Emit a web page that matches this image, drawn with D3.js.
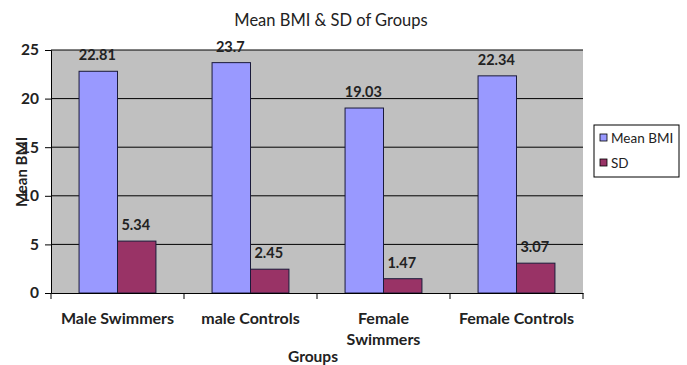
<!DOCTYPE html>
<html>
<head>
<meta charset="utf-8">
<script src="https://cdn.jsdelivr.net/npm/d3@7"></script>
<style>
  html, body { margin: 0; padding: 0; background: #fff; }
  svg { display: block; font-family: Lato, "Open Sans", "Liberation Sans", sans-serif; }
</style>
</head>
<body>
<svg id="chart" width="687" height="365"></svg>
<script>
// Group categories and the two series plotted for each
const categories = ["Male Swimmers", "male Controls", "Female Swimmers", "Female Controls"];
const categoryLines = [["Male Swimmers"], ["male Controls"], ["Female", "Swimmers"], ["Female Controls"]];
const meanBMI = [22.81, 23.7, 19.03, 22.34];
const sdValues = [5.34, 2.45, 1.47, 3.07];
const meanLabels = ["22.81", "23.7", "19.03", "22.34"];
const sdLabels = ["5.34", "2.45", "1.47", "3.07"];
const seriesNames = ["Mean BMI", "SD"];
const yTicks = [0, 5, 10, 15, 20, 25];

const colors = { "Mean BMI": "#9999FF", "SD": "#993366" };

const svg = d3.select("#chart");
const plot = { left: 51, top: 50, right: 583, bottom: 293 };

const x = d3.scaleBand().domain(categories).range([plot.left, plot.right]).paddingInner(0).paddingOuter(0);
const inner = d3.scaleBand().domain(seriesNames).range([0, x.bandwidth()]).paddingInner(0).paddingOuter(0.73);
const y = d3.scaleLinear().domain([0, 25]).range([plot.bottom, plot.top]);

// plot area background
svg.append("rect")
  .attr("x", plot.left).attr("y", plot.top)
  .attr("width", plot.right - plot.left).attr("height", plot.bottom - plot.top)
  .attr("fill", "#C0C0C0");

// horizontal gridlines
svg.append("g").selectAll("line").data(yTicks.filter(d => d > 0)).join("line")
  .attr("x1", plot.left).attr("x2", plot.right)
  .attr("y1", d => y(d)).attr("y2", d => y(d))
  .attr("stroke", "#000").attr("stroke-width", 1);

// bars
const rows = categories.map((c, i) => ({ cat: c, values: [
  { s: "Mean BMI", v: meanBMI[i], label: meanLabels[i] },
  { s: "SD", v: sdValues[i], label: sdLabels[i] }
]}));

const groups = svg.append("g").selectAll("g").data(rows).join("g")
  .attr("transform", d => `translate(${x(d.cat)},0)`);

groups.selectAll("rect").data(d => d.values).join("rect")
  .attr("x", d => inner(d.s)).attr("width", inner.bandwidth())
  .attr("y", d => y(d.v)).attr("height", d => y(0) - y(d.v))
  .attr("fill", d => colors[d.s])
  .attr("stroke", "#1a1a3a").attr("stroke-width", 1);

groups.selectAll("text").data(d => d.values).join("text")
  .attr("x", d => inner(d.s) + inner.bandwidth() / 2 - 1)
  .attr("y", d => y(d.v) - 11)
  .attr("text-anchor", "middle")
  .attr("font-size", 14.5).attr("font-weight", "bold").attr("fill", "#222")
  .text(d => d.label);

// y axis
const yAxis = svg.append("g").attr("transform", `translate(${plot.left},0)`)
  .call(d3.axisLeft(y).tickValues(yTicks).tickSize(6).tickPadding(6));
yAxis.select(".domain").attr("stroke", "#000");
yAxis.selectAll("text").attr("font-size", 15.5).attr("font-weight", "bold")
  .attr("font-family", "Lato, 'Open Sans', sans-serif").attr("fill", "#222");

// x axis
const xAxis = svg.append("g").attr("transform", `translate(0,${plot.bottom})`)
  .call(d3.axisBottom(x).tickSize(0).tickFormat(""));
xAxis.select(".domain").attr("stroke", "#000");
xAxis.selectAll(".tick").remove();
svg.append("g").selectAll("line").data(d3.range(categories.length + 1)).join("line")
  .attr("x1", i => plot.left + i * x.bandwidth()).attr("x2", i => plot.left + i * x.bandwidth())
  .attr("y1", plot.bottom).attr("y2", plot.bottom + 6)
  .attr("stroke", "#000");

// category labels
const catText = svg.append("g").selectAll("text").data(categories).join("text")
  .attr("x", d => x(d) + x.bandwidth() / 2)
  .attr("y", 324)
  .attr("text-anchor", "middle")
  .attr("font-size", 16).attr("font-weight", "bold").attr("fill", "#222");
catText.each(function(d, i) {
  d3.select(this).selectAll("tspan").data(categoryLines[i]).join("tspan")
    .attr("x", x(d) + x.bandwidth() / 2)
    .attr("dy", (t, j) => j === 0 ? 0 : 21)
    .text(t => t);
});

// axis titles
svg.append("text").attr("x", 313).attr("y", 362).attr("text-anchor", "middle")
  .attr("font-size", 15.5).attr("font-weight", "bold").attr("fill", "#222").text("Groups");
svg.append("text").attr("transform", "translate(27,172) rotate(-90)").attr("text-anchor", "middle")
  .attr("font-size", 15).attr("font-weight", "bold").attr("fill", "#222").text("Mean BMI");

// chart title
svg.append("text").attr("x", 331).attr("y", 26).attr("text-anchor", "middle")
  .attr("font-size", 16.5).attr("fill", "#222").text("Mean BMI & SD of Groups");

// legend
const legend = svg.append("g").attr("transform", "translate(594,125)");
legend.append("rect").attr("width", 85).attr("height", 52)
  .attr("fill", "#fff").attr("stroke", "#000").attr("stroke-width", 1);
const items = legend.selectAll("g").data(seriesNames).join("g")
  .attr("transform", (d, i) => `translate(6,${13 + i * 25})`);
items.append("rect").attr("x", 0).attr("y", -4).attr("width", 7).attr("height", 7)
  .attr("fill", d => colors[d]).attr("stroke", "#000").attr("stroke-width", 0.8);
items.append("text").attr("x", 11).attr("y", 5)
  .attr("font-size", 13.5).attr("fill", "#222").text(d => d);
</script>
</body>
</html>
